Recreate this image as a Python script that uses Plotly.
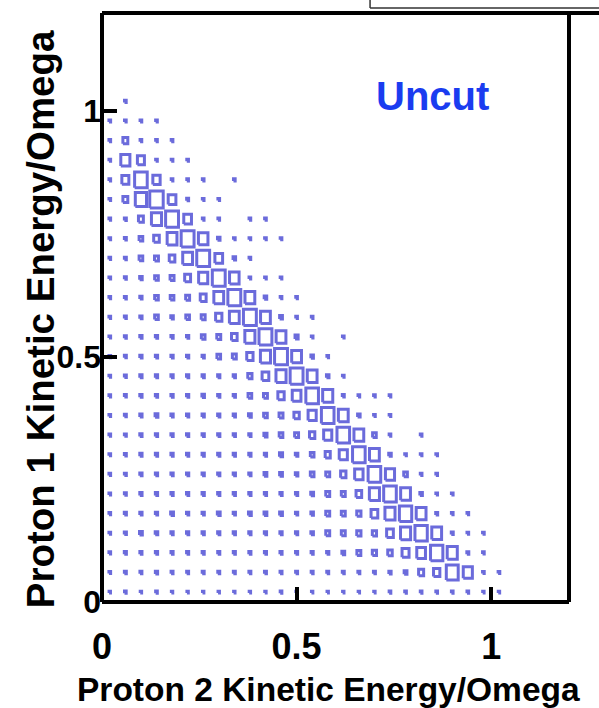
import plotly.graph_objects as go

# ---------------- data ----------------
BIN_WIDTH = 0.04
x_bin_centers = [0.02, 0.06, 0.10, 0.14, 0.18, 0.22, 0.26, 0.30, 0.34, 0.38, 0.42, 0.46, 0.50,
                 0.54, 0.58, 0.62, 0.66, 0.70, 0.74, 0.78, 0.82, 0.86, 0.90, 0.94, 0.98, 1.02]
y_bin_centers = [0.02, 0.06, 0.10, 0.14, 0.18, 0.22, 0.26, 0.30, 0.34, 0.38, 0.42, 0.46, 0.50,
                 0.54, 0.58, 0.62, 0.66, 0.70, 0.74, 0.78, 0.82, 0.86, 0.90, 0.94, 0.98, 1.02]

# counts per row (proton-1 bin), listed over proton-2 bins
row_00 = [10, 12, 10, 12, 10, 10, 10, 10, 10, 10, 10, 12, 10, 10, 10, 10, 10, 10, 12, 12, 12, 12, 12, 12, 10, 10]
row_01 = [12, 14, 14, 16, 14, 14, 14, 14, 14, 14, 14, 14, 14, 14, 14, 14, 14, 14, 16, 20, 36, 45, 85, 65, 12, 12]
row_02 = [12, 15, 15, 16, 15, 15, 15, 15, 15, 15, 15, 15, 15, 15, 16, 20, 28, 30, 32, 50, 62, 88, 72, 14, 12, 0]
row_03 = [12, 15, 20, 18, 16, 16, 16, 16, 16, 16, 16, 16, 16, 18, 28, 28, 30, 30, 48, 72, 88, 70, 14, 12, 12, 0]
row_04 = [12, 15, 16, 16, 20, 16, 16, 20, 16, 20, 20, 20, 16, 18, 28, 28, 30, 48, 72, 88, 70, 14, 12, 12, 0, 0]
row_05 = [12, 14, 16, 16, 16, 16, 16, 16, 16, 16, 16, 16, 16, 20, 28, 28, 40, 72, 90, 70, 18, 12, 12, 0, 0, 0]
row_06 = [12, 14, 16, 16, 16, 16, 16, 16, 16, 16, 20, 20, 18, 26, 28, 38, 60, 90, 65, 26, 12, 12, 0, 0, 0, 0]
row_07 = [12, 14, 16, 16, 16, 16, 16, 16, 16, 16, 16, 22, 18, 26, 36, 58, 90, 70, 18, 12, 12, 12, 0, 0, 0, 0]
row_08 = [12, 14, 16, 16, 16, 16, 16, 16, 16, 16, 22, 26, 28, 38, 58, 90, 70, 26, 12, 0, 12, 0, 0, 0, 0, 0]
row_09 = [12, 14, 16, 20, 16, 16, 16, 16, 16, 20, 26, 28, 38, 58, 90, 70, 18, 12, 12, 0, 0, 0, 0, 0, 0, 0]
row_10 = [12, 14, 16, 16, 16, 16, 18, 16, 16, 26, 28, 45, 62, 90, 72, 14, 12, 12, 12, 0, 0, 0, 0, 0, 0, 0]
row_11 = [12, 14, 16, 16, 16, 16, 16, 16, 16, 30, 48, 72, 92, 70, 18, 12, 0, 0, 0, 0, 0, 0, 0, 0, 0, 0]
row_12 = [12, 14, 16, 16, 16, 16, 16, 26, 28, 45, 72, 92, 70, 18, 12, 0, 0, 0, 0, 0, 0, 0, 0, 0, 0, 0]
row_13 = [12, 14, 16, 16, 16, 16, 26, 28, 40, 72, 92, 70, 22, 12, 0, 12, 0, 0, 0, 0, 0, 0, 0, 0, 0, 0]
row_14 = [12, 14, 16, 26, 18, 26, 28, 45, 70, 92, 70, 20, 12, 12, 0, 0, 0, 0, 0, 0, 0, 0, 0, 0, 0, 0]
row_15 = [12, 14, 16, 26, 26, 28, 42, 70, 92, 70, 18, 12, 12, 0, 0, 0, 0, 0, 0, 0, 0, 0, 0, 0, 0, 0]
row_16 = [12, 14, 18, 26, 28, 42, 65, 92, 68, 12, 12, 12, 0, 0, 0, 0, 0, 0, 0, 0, 0, 0, 0, 0, 0, 0]
row_17 = [12, 14, 26, 28, 40, 70, 92, 55, 18, 12, 0, 0, 0, 0, 0, 0, 0, 0, 0, 0, 0, 0, 0, 0, 0, 0]
row_18 = [12, 14, 26, 40, 70, 92, 68, 18, 12, 12, 12, 12, 0, 0, 0, 0, 0, 0, 0, 0, 0, 0, 0, 0, 0, 0]
row_19 = [12, 14, 35, 72, 92, 55, 12, 12, 0, 12, 12, 0, 0, 0, 0, 0, 0, 0, 0, 0, 0, 0, 0, 0, 0, 0]
row_20 = [12, 35, 80, 96, 55, 14, 12, 12, 0, 0, 0, 0, 0, 0, 0, 0, 0, 0, 0, 0, 0, 0, 0, 0, 0, 0]
row_21 = [12, 50, 90, 52, 12, 12, 12, 0, 12, 0, 0, 0, 0, 0, 0, 0, 0, 0, 0, 0, 0, 0, 0, 0, 0, 0]
row_22 = [12, 65, 50, 12, 12, 12, 0, 0, 0, 0, 0, 0, 0, 0, 0, 0, 0, 0, 0, 0, 0, 0, 0, 0, 0, 0]
row_23 = [12, 35, 12, 12, 12, 0, 0, 0, 0, 0, 0, 0, 0, 0, 0, 0, 0, 0, 0, 0, 0, 0, 0, 0, 0, 0]
row_24 = [12, 12, 12, 12, 0, 0, 0, 0, 0, 0, 0, 0, 0, 0, 0, 0, 0, 0, 0, 0, 0, 0, 0, 0, 0, 0]
row_25 = [0, 12, 0, 0, 0, 0, 0, 0, 0, 0, 0, 0, 0, 0, 0, 0, 0, 0, 0, 0, 0, 0, 0, 0, 0, 0]

rows = [row_00, row_01, row_02, row_03, row_04, row_05, row_06, row_07, row_08, row_09,
        row_10, row_11, row_12, row_13, row_14, row_15, row_16, row_17, row_18, row_19,
        row_20, row_21, row_22, row_23, row_24, row_25]

tick_vals = [0, 0.5, 1]
tick_text = ["0", "0.5", "1"]
x_title = "Proton 2 Kinetic Energy/Omega"
y_title = "Proton 1 Kinetic Energy/Omega"
label_text = "Uncut"

# ---------------- box-histogram construction (ROOT "BOX" style) ----------------
BOX_FILL = 0.9
CMAX = 100.0
bx, by = [], []
for j, row in enumerate(rows):
    yc = y_bin_centers[j]
    for i, c in enumerate(row):
        if c <= 0:
            continue
        xc = x_bin_centers[i]
        h = 0.5 * BOX_FILL * BIN_WIDTH * c / CMAX
        bx += [xc - h, xc + h, xc + h, xc - h, xc - h, None]
        by += [yc - h, yc - h, yc + h, yc + h, yc - h, None]

BOX_COLOR = "#6b6bdb"
fig = go.Figure(go.Scatter(x=bx, y=by, mode="lines",
                           line=dict(color=BOX_COLOR, width=3),
                           hoverinfo="skip", showlegend=False))

FONT = "Liberation Sans"
axis_common = dict(range=[0, 1.2], showgrid=False, zeroline=False, showline=False,
                   ticks="inside", ticklen=15, tickwidth=4, tickcolor="black",
                   tickvals=tick_vals, ticktext=tick_text)

fig.update_layout(
    width=599, height=708,
    margin=dict(l=102, r=30, t=13, b=106),
    plot_bgcolor="white", paper_bgcolor="white",
    showlegend=False,
    xaxis=dict(**axis_common, ticklabelstandoff=20,
               tickfont=dict(family=FONT, size=36, color="black", weight="bold")),
    yaxis=dict(**axis_common, ticklabelstandoff=0,
               tickfont=dict(family=FONT, size=32, color="black", weight="bold")),
)

# axis titles
fig.add_annotation(x=0.486, y=-0.149, xref="paper", yref="paper", text=x_title,
                   showarrow=False, xanchor="center", yanchor="middle",
                   font=dict(family=FONT, size=33.5, color="black", weight="bold"))
fig.add_annotation(x=-0.133, y=0.48, xref="paper", yref="paper", text=y_title,
                   showarrow=False, textangle=-90, xanchor="center", yanchor="middle",
                   font=dict(family=FONT, size=38.5, color="black", weight="bold"))

fig.add_annotation(x=0.85, y=1.03, xref="x", yref="y", text=label_text, showarrow=False,
                   font=dict(family=FONT, size=40, color="#1a3cf0", weight="bold"),
                   xanchor="center", yanchor="middle")

# frame (drawn centred on the plot edges, like the original)
frame = dict(type="line", xref="paper", yref="paper", line=dict(color="black", width=4))
fig.add_shape(**frame, x0=0, x1=0, y0=0, y1=1)
fig.add_shape(**frame, x0=0, x1=1, y0=0, y1=0)
fig.add_shape(**frame, x0=1, x1=1, y0=0, y1=1)
fig.add_shape(**frame, x0=0, x1=1.07, y0=1, y1=1)
# edge of the neighbouring panel visible at the top right
thin = dict(type="line", xref="paper", yref="paper", line=dict(color="#333333", width=1.5))
fig.add_shape(**thin, x0=0.574, x1=1.07, y0=1.0085, y1=1.0085)
fig.add_shape(**thin, x0=0.574, x1=0.574, y0=1.0085, y1=1.03)

fig.write_html("out.html", config={"displayModeBar": False},
               post_script="document.body.style.margin='0';")
